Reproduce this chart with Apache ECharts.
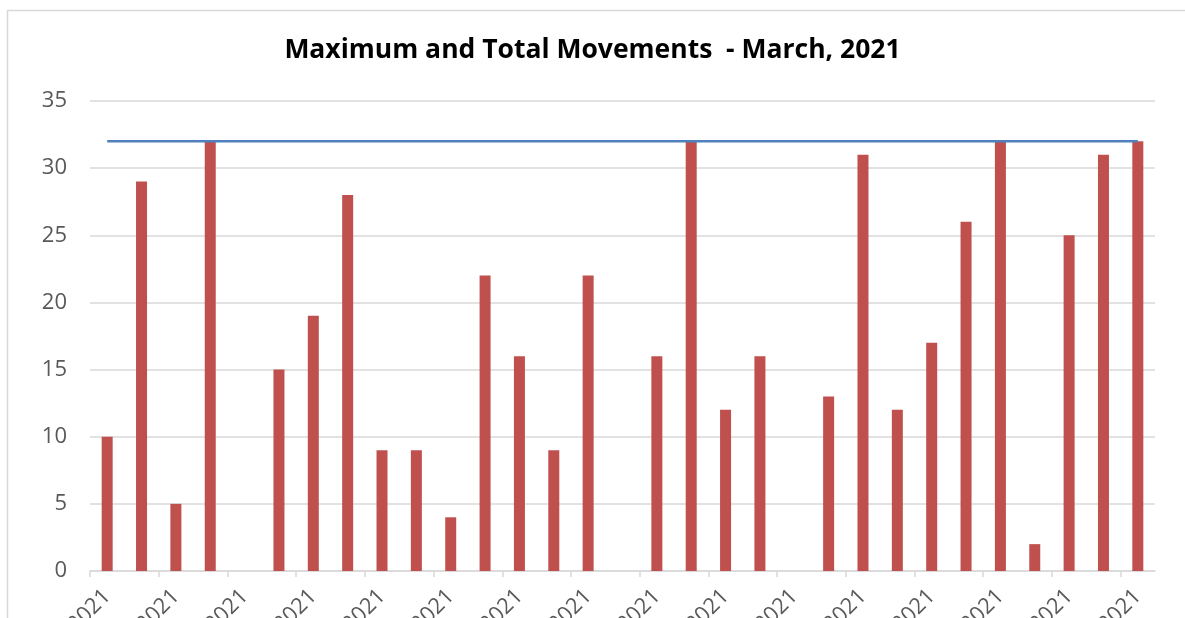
<!DOCTYPE html>
<html>
<head>
<meta charset="utf-8">
<script src="https://cdn.jsdelivr.net/npm/echarts@6/dist/echarts.min.js"></script>
<style>html,body{margin:0;padding:0;background:#fff}#c{width:1185px;height:618px}</style>
</head>
<body>
<div id="c"></div>
<script>
const titleText = 'Maximum and Total Movements  - March, 2021';
const days = ['01-03-2021','02-03-2021','03-03-2021','04-03-2021','05-03-2021','06-03-2021','07-03-2021','08-03-2021','09-03-2021','10-03-2021','11-03-2021','12-03-2021','13-03-2021','14-03-2021','15-03-2021','16-03-2021','17-03-2021','18-03-2021','19-03-2021','20-03-2021','21-03-2021','22-03-2021','23-03-2021','24-03-2021','25-03-2021','26-03-2021','27-03-2021','28-03-2021','29-03-2021','30-03-2021','31-03-2021'];
const totalMovements = [10,29,5,32,0,15,19,28,9,9,4,22,16,9,22,0,16,32,12,16,0,13,31,12,17,26,32,2,25,31,32];
const maximumMovements = [32,32,32,32,32,32,32,32,32,32,32,32,32,32,32,32,32,32,32,32,32,32,32,32,32,32,32,32,32,32,32];

const gridLeft = 90, gridRight = 30, plotWidth = 1185 - gridLeft - gridRight;
const catWidth = plotWidth / days.length;
const tickDays = days.slice(0, days.length - 1);

const chart = echarts.init(document.getElementById('c'));
const font = '"Open Sans", "Liberation Sans", sans-serif';
chart.setOption({
  animation: false,
  textStyle: { fontFamily: font },
  graphic: [{
    type: 'rect', left: 5, top: 8, silent: true,
    shape: { width: 1300, height: 800 },
    style: { fill: 'none', stroke: '#d9d9d9', lineWidth: 1.5 }
  }],
  title: {
    text: titleText, left: 'center', top: 32,
    textStyle: { fontFamily: font, fontSize: 26.5, fontWeight: 'bold', color: '#000' }
  },
  grid: [
    { left: gridLeft, right: gridRight, top: 101, bottom: 47, containLabel: false, outerBoundsMode: 'none' },
    { left: gridLeft, right: gridRight + catWidth, top: 101, bottom: 47, containLabel: false, outerBoundsMode: 'none' }
  ],
  xAxis: [{
    type: 'category', data: days, boundaryGap: true, gridIndex: 0,
    axisLine: { lineStyle: { color: '#d9d9d9', width: 1.5 } },
    axisTick: { show: false },
    axisLabel: { interval: 1, rotate: 45, margin: 22, color: '#595959', fontSize: 22, fontFamily: font },
    splitLine: { show: false }
  }, {
    type: 'category', data: tickDays, boundaryGap: true, gridIndex: 1, position: 'bottom',
    axisLine: { show: false },
    axisTick: { show: true, interval: 1, length: 6, lineStyle: { color: '#d9d9d9', width: 1.5 } },
    axisLabel: { show: false },
    splitLine: { show: false }
  }],
  yAxis: [{
    type: 'value', min: 0, max: 35, interval: 5, gridIndex: 0,
    axisLine: { show: false }, axisTick: { show: false },
    axisLabel: { color: '#595959', fontSize: 22, margin: 23, fontFamily: font },
    splitLine: { lineStyle: { color: '#d9d9d9', width: 1.5 } }
  }, {
    type: 'value', min: 0, max: 35, interval: 5, gridIndex: 1, show: false
  }],
  series: [
    { name: 'Total Movements', type: 'bar', data: totalMovements, barWidth: 11,
      xAxisIndex: 0, yAxisIndex: 0, itemStyle: { color: '#C0504D' } },
    { name: 'Maximum Movements', type: 'line', data: maximumMovements, symbol: 'none',
      xAxisIndex: 0, yAxisIndex: 0, lineStyle: { color: '#4F81BD', width: 2.5 }, z: 5 }
  ]
});
</script>
</body>
</html>
